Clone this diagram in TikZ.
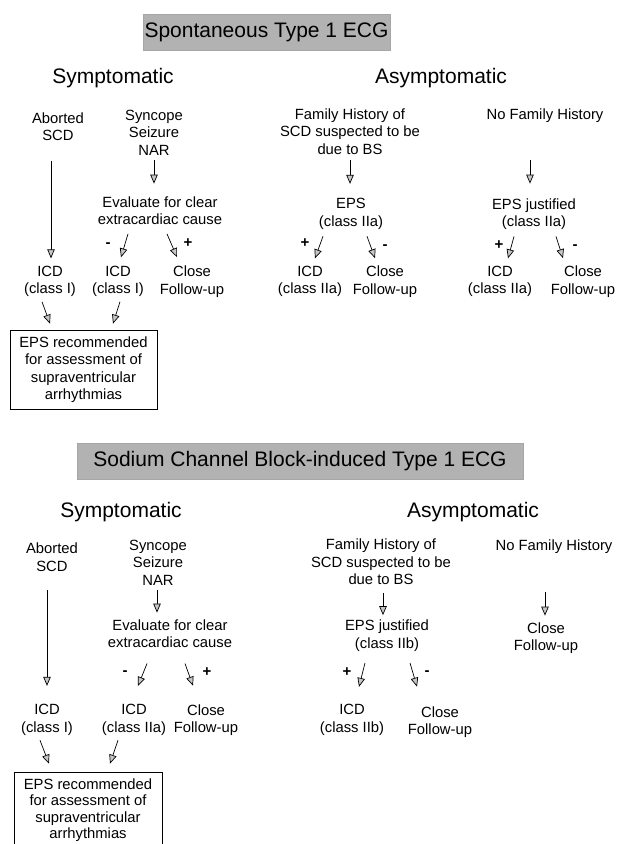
\documentclass[tikz,border=0pt]{standalone}
\usepackage{fontspec}
\setmainfont{Liberation Sans}
\usepackage{tikz}
\usetikzlibrary{arrows.meta, positioning, calc}
\usepackage{xcolor}
\definecolor{ttlgray}{RGB}{178,178,178}
\tikzset{
  txt/.style={align=center, inner sep=0pt,
    font=\fontsize{14.8}{17.5}\selectfont},
  hdr/.style={inner sep=0pt, font=\fontsize{21}{25}\selectfont},
  ttl/.style={rectangle, draw=gray!70, fill=ttlgray, line width=0.8pt,
    minimum height=36pt, inner sep=0pt, font=\fontsize{21}{25}\selectfont},
  epsbox/.style={rectangle, draw, line width=0.7pt, align=center,
    inner sep=0pt, font=\fontsize{14.8}{17.5}\selectfont},
  sgn/.style={inner sep=0pt, font=\fontsize{15}{15}\selectfont\bfseries},
  arr/.style={-{Triangle[length=9pt, width=7.5pt, fill=gray!45]},
    line width=0.7pt},
}
\begin{document}
\begin{tikzpicture}[x=1pt, y=-1pt]
  \useasboundingbox (0,0) rectangle (618,844);

  \node[ttl, minimum width=247pt] (ttl1) at (266.5,32.5) {Spontaneous Type 1 ECG};
  \node[hdr] (sym1) at (113,78) {Symptomatic};
  \node[hdr] (asy1) at (441,78) {Asymptomatic};

  \node[txt] (ab1)  at (58,126.5)  {Aborted\\SCD};
  \node[txt] (syn1) at (154,132.5) {Syncope\\Seizure\\NAR};
  \node[txt] (ev1)  at (160,210.5) {Evaluate for clear\\extracardiac cause};
  \node[txt] (icd1a) at (50,281.5)  {ICD\\(class I)};
  \node[txt] (icd1b) at (118,281.5) {ICD\\(class I)};
  \node[txt] (cl1a)  at (192,281.5) {Close\\Follow-up};
  \node[epsbox, minimum width=147pt, minimum height=79pt] (box1) at (83.5,369.5)
       {EPS recommended\\for assessment of\\supraventricular\\arrhythmias};

  \node[txt] (fh1)  at (350,131.5) {Family History of\\SCD suspected to be\\due to BS};
  \node[txt] (nf1)  at (545,115.5) {No Family History};
  \node[txt] (eps1) at (351,214)   {EPS\\(class IIa)};
  \node[txt] (epj1) at (534,214)   {EPS justified\\(class IIa)};
  \node[txt] (icd1c) at (310,281.5) {ICD\\(class IIa)};
  \node[txt] (cl1b)  at (385,281.5) {Close\\Follow-up};
  \node[txt] (icd1d) at (500,281.5) {ICD\\(class IIa)};
  \node[txt] (cl1c)  at (583,281.5) {Close\\Follow-up};

  \draw[arr] ([shift={(-7,20)}]ab1.south)   -- ([shift={(1,-7.5)}]icd1a.north);
  \draw[arr] ([shift={(0,5)}]syn1.south)    -- ([shift={(-6,-12.5)}]ev1.north);
  \draw[arr] ([shift={(-32,9)}]ev1.south)   -- ([shift={(3,-8.5)}]icd1b.north);
  \draw[arr] ([shift={(7,9)}]ev1.south)     -- ([shift={(-15,-8.5)}]cl1a.north);
  \draw[arr] ([shift={(-8,4.6)}]icd1a.south) -- ([shift={(-33.5,-6)}]box1.north);
  \draw[arr] ([shift={(2,4.6)}]icd1b.south)  -- ([shift={(29.5,-6)}]box1.north);
  \draw[arr] ([shift={(0,5.7)}]fh1.south)   -- ([shift={(-1,-14.5)}]eps1.north);
  \draw[arr] ([shift={(-28,6.6)}]eps1.south) -- ([shift={(5,-7.5)}]icd1c.north);
  \draw[arr] ([shift={(16,6.6)}]eps1.south)  -- ([shift={(-10,-7.5)}]cl1b.north);
  \draw[arr] ([shift={(-15,37.6)}]nf1.south) -- ([shift={(-4,-14.5)}]epj1.north);
  \draw[arr] ([shift={(-20,6.6)}]epj1.south) -- ([shift={(8,-7.5)}]icd1d.north);
  \draw[arr] ([shift={(22,6.6)}]epj1.south)  -- ([shift={(-20,-7.5)}]cl1c.north);

  \node[sgn] (m1a) at (108,245) {-};
  \node[sgn] (p1a) at (188,243) {+};
  \node[sgn] (p1b) at (305,243) {+};
  \node[sgn] (m1b) at (385,247) {-};
  \node[sgn] (p1c) at (499,245) {+};
  \node[sgn] (m1c) at (575,247) {-};

  \node[ttl, minimum width=446pt] (ttl2) at (300,461.5)
       {Sodium Channel Block-induced Type 1 ECG};
  \node[hdr] (sym2) at (121,512) {Symptomatic};
  \node[hdr] (asy2) at (473,512) {Asymptomatic};

  \node[txt] (ab2)  at (52,557)    {Aborted\\SCD};
  \node[txt] (syn2) at (158,562.5) {Syncope\\Seizure\\NAR};
  \node[txt] (ev2)  at (170,633.5) {Evaluate for clear\\extracardiac cause};
  \node[txt] (icd2a) at (47,720)  {ICD\\(class I)};
  \node[txt] (icd2b) at (134,720) {ICD\\(class IIa)};
  \node[txt] (cl2a)  at (206,720) {Close\\Follow-up};
  \node[epsbox, minimum width=148pt, minimum height=76pt,
        font=\fontsize{14.8}{16.5}\selectfont] (box2) at (88,810)
       {EPS recommended\\for assessment of\\supraventricular\\arrhythmias};

  \node[txt] (fh2)  at (381,562)   {Family History of\\SCD suspected to be\\due to BS};
  \node[txt] (nf2)  at (554,546.5) {No Family History};
  \node[txt] (epj2) at (387,635.5) {EPS justified\\(class IIb)};
  \node[txt] (cl2c) at (546,638)   {Close\\Follow-up};
  \node[txt] (icd2c) at (352,720) {ICD\\(class IIb)};
  \node[txt] (cl2b)  at (440,722) {Close\\Follow-up};

  \draw[arr] ([shift={(-5,19)}]ab2.south)    -- ([shift={(0,-18.5)}]icd2a.north);
  \draw[arr] ([shift={(-1,4.7)}]syn2.south)  -- ([shift={(-13,-6.5)}]ev2.north);
  \draw[arr] ([shift={(-23,15.7)}]ev2.south) -- ([shift={(4,-18.5)}]icd2b.north);
  \draw[arr] ([shift={(15,15.7)}]ev2.south)  -- ([shift={(-13,-18.5)}]cl2a.north);
  \draw[arr] ([shift={(-7,4.6)}]icd2a.south)  -- ([shift={(-39,-8)}]box2.north);
  \draw[arr] ([shift={(-16,4.6)}]icd2b.south) -- ([shift={(22,-8)}]box2.north);
  \draw[arr] ([shift={(2,7.7)}]fh2.south)    -- ([shift={(-4,-4.5)}]epj2.north);
  \draw[arr] ([shift={(-22,11.6)}]epj2.south) -- ([shift={(7,-17.5)}]icd2c.north);
  \draw[arr] ([shift={(23,11.6)}]epj2.south)  -- ([shift={(-23,-19.5)}]cl2b.north);
  \draw[arr] ([shift={(-9,38.6)}]nf2.south)  -- ([shift={(-1,-6.5)}]cl2c.north);

  \node[sgn] (m2a) at (125,673) {-};
  \node[sgn] (p2a) at (207,672) {+};
  \node[sgn] (p2b) at (347,672) {+};
  \node[sgn] (m2b) at (427,673) {-};
\end{tikzpicture}
\end{document}
